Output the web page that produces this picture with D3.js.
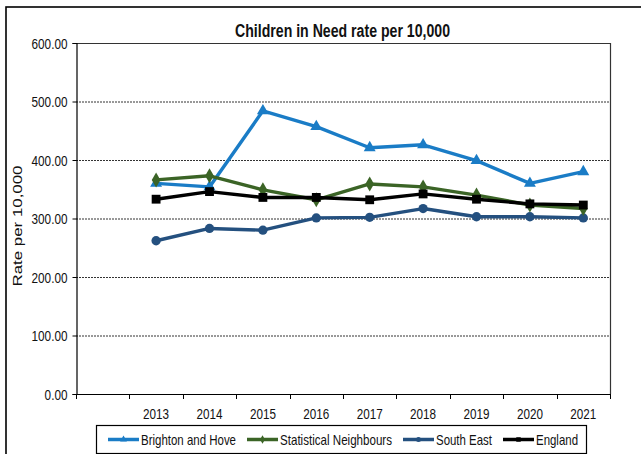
<!DOCTYPE html>
<html>
<head>
<meta charset="utf-8">
<script src="https://cdn.jsdelivr.net/npm/d3@7"></script>
<style>
  html, body { margin: 0; padding: 0; background: #fff; }
  svg { display: block; }
  text { font-family: "Liberation Sans", Arial, sans-serif; }
</style>
</head>
<body>
<svg id="chart" width="641" height="454"></svg>
<script>
const categories = ["", "2013", "2014", "2015", "2016", "2017", "2018", "2019", "2020", "2021"];
const years = ["2013", "2014", "2015", "2016", "2017", "2018", "2019", "2020", "2021"];
const brighton = [360, 354, 484, 457, 421, 426, 399, 360, 380];
const statNeighbours = [366, 373, 349, 332, 359, 354, 340, 323, 317];
const southEast = [262, 283, 280, 301, 302, 317, 303, 303, 301];
const england = [333, 346, 336, 336, 332, 342, 333, 325, 323];
const yTicks = [0, 100, 200, 300, 400, 500, 600];
const seriesNames = ["Brighton and Hove", "Statistical Neighbours", "South East", "England"];

const svg = d3.select("#chart");
const plot = { left: 76, right: 610, top: 43, bottom: 394 };

// condense text (narrow face emulation)
function squeeze(sel, factor) {
  sel.each(function () {
    const w = this.getComputedTextLength();
    d3.select(this).attr("textLength", w * factor).attr("lengthAdjust", "spacingAndGlyphs");
  });
}

// outer frame
svg.append("rect").attr("x", 6).attr("y", 7).attr("width", 700).attr("height", 500)
  .attr("fill", "none").attr("stroke", "#000").attr("stroke-width", 1.6);

const x = d3.scaleBand().domain(categories).range([plot.left, plot.right]).padding(0);
const y = d3.scaleLinear().domain([0, 600]).range([plot.bottom, plot.top]);

// gridlines
svg.append("g").selectAll("line").data(yTicks.filter(d => d > 0 && d < 600)).join("line")
  .attr("x1", plot.left).attr("x2", plot.right)
  .attr("y1", d => y(d) + 0.5).attr("y2", d => y(d) + 0.5)
  .attr("stroke", "#333").attr("stroke-width", 1).attr("stroke-dasharray", "2,1");

// plot border top & right
svg.append("path")
  .attr("d", `M${plot.left},${plot.top + 0.5}H${plot.right + 0.5}V${plot.bottom}`)
  .attr("fill", "none").attr("stroke", "#333").attr("stroke-width", 1.2);

// y axis
const yAxis = d3.axisLeft(y).tickValues(yTicks).tickFormat(d3.format(".2f")).tickSizeOuter(0).tickSize(4).tickPadding(5);
const gy = svg.append("g").attr("transform", `translate(${plot.left + 0.5},0)`).call(yAxis);
gy.attr("font-family", null).attr("font-size", null);
gy.select(".domain").attr("stroke", "#000").attr("stroke-width", 1.2);
gy.selectAll(".tick line").attr("stroke", "#000");
gy.selectAll(".tick text").attr("font-size", 14).attr("fill", "#111").attr("dy", "0.36em").call(squeeze, 0.84);

// x axis with ticks at band boundaries
svg.append("line").attr("x1", plot.left).attr("x2", plot.right + 0.5)
  .attr("y1", plot.bottom + 0.5).attr("y2", plot.bottom + 0.5).attr("stroke", "#000").attr("stroke-width", 1.2);
const boundaries = categories.map(c => x(c)).concat([x(categories[categories.length - 1]) + x.bandwidth()]);
svg.append("g").selectAll("line").data(boundaries).join("line")
  .attr("x1", d => Math.round(d) + 0.5).attr("x2", d => Math.round(d) + 0.5)
  .attr("y1", plot.bottom).attr("y2", plot.bottom + 5).attr("stroke", "#000");
svg.append("g").selectAll("text").data(years).join("text")
  .attr("x", d => x(d) + x.bandwidth() / 2).attr("y", 419)
  .attr("text-anchor", "middle").attr("font-size", 14.5).attr("fill", "#111")
  .text(d => d).attr("textLength", 26).attr("lengthAdjust", "spacingAndGlyphs");

// y label
svg.append("text").attr("transform", "translate(22,226) rotate(-90)")
  .attr("text-anchor", "middle")
  .attr("font-size", 13).attr("fill", "#111").text("Rate per 10,000")
  .attr("textLength", 121).attr("lengthAdjust", "spacingAndGlyphs");

// title
svg.append("text").attr("x", 342.5).attr("y", 36.5)
  .attr("text-anchor", "middle").attr("font-size", 18).attr("font-weight", "bold").attr("fill", "#111")
  .text("Children in Need rate per 10,000")
  .attr("textLength", 215).attr("lengthAdjust", "spacingAndGlyphs");

const series = [
  { name: seriesNames[0], values: brighton, color: "#1a7cc6", symbol: d3.symbolTriangle, size: 62 },
  { name: seriesNames[1], values: statNeighbours, color: "#3b6426", symbol: d3.symbolDiamond, size: 65 },
  { name: seriesNames[2], values: southEast, color: "#24507f", symbol: d3.symbolCircle, size: 68 },
  { name: seriesNames[3], values: england, color: "#000000", symbol: d3.symbolSquare, size: 78 }
];

const line = d3.line().x((d, i) => x(years[i]) + x.bandwidth() / 2).y(d => y(d));
// draw order: South East, Brighton, Stat, England
[series[2], series[0], series[1], series[3]].forEach(s => {
  const g = svg.append("g");
  g.append("path").datum(s.values).attr("d", line)
    .attr("fill", "none").attr("stroke", s.color).attr("stroke-width", 3.4).attr("stroke-linejoin", "round");
  g.selectAll("path.m").data(s.values).join("path").attr("class", "m")
    .attr("transform", (d, i) => `translate(${x(years[i]) + x.bandwidth() / 2},${y(d)})`)
    .attr("d", d3.symbol().type(s.symbol).size(s.size))
    .attr("fill", s.color);
});

// legend
svg.append("rect").attr("x", 96.5).attr("y", 425.5).attr("width", 490).attr("height", 28)
  .attr("fill", "#fff").attr("stroke", "#000").attr("stroke-width", 1.2);
const legendX = [108, 247, 403, 503];
const legendW = [95, 112, 56, 42];
series.forEach((s, i) => {
  const g = svg.append("g").attr("transform", `translate(${legendX[i]},439.5)`);
  g.append("line").attr("x1", 0).attr("x2", 31).attr("stroke", s.color).attr("stroke-width", 3.5);
  g.append("path").attr("transform", "translate(15.5,0)")
    .attr("d", d3.symbol().type(s.symbol).size(20)).attr("fill", s.color);
  g.append("text").attr("x", 33).attr("y", 5)
    .attr("font-size", 14.5).attr("fill", "#111").text(s.name)
    .attr("textLength", legendW[i]).attr("lengthAdjust", "spacingAndGlyphs");
});
</script>
</body>
</html>
